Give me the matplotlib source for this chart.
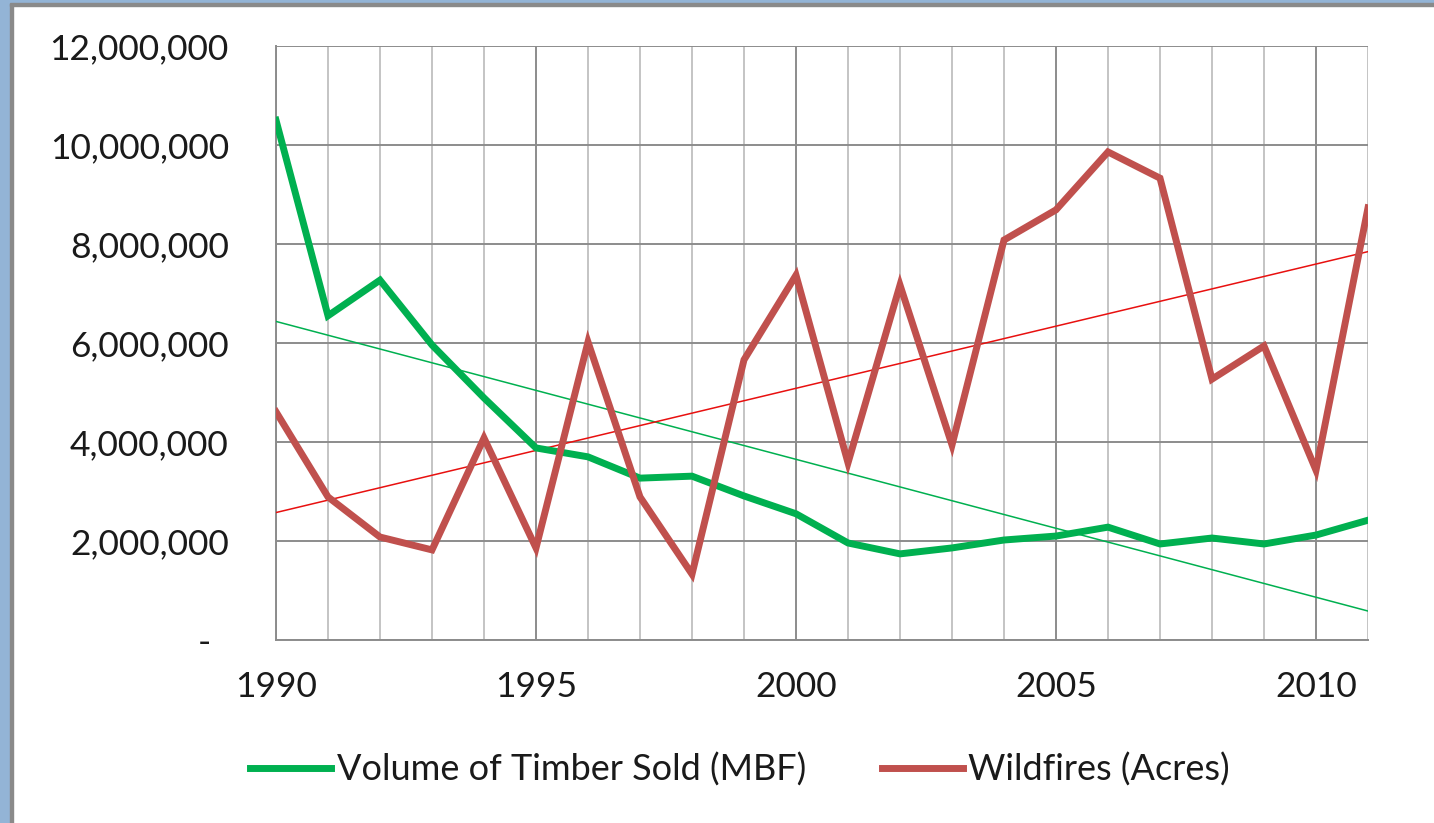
import matplotlib
matplotlib.use("Agg")
import matplotlib.pyplot as plt
import numpy as np
from matplotlib.ticker import FuncFormatter, MultipleLocator
from matplotlib.patches import Rectangle

years = list(range(1990, 2012))
timber = [10.5e6, 6.55e6, 7.27e6, 5.96e6, 4.89e6, 3.88e6, 3.70e6, 3.27e6, 3.31e6, 2.91e6, 2.55e6,
          1.96e6, 1.74e6, 1.86e6, 2.02e6, 2.10e6, 2.28e6, 1.94e6, 2.06e6, 1.94e6, 2.12e6, 2.42e6]
wildfires = [4.61e6, 2.89e6, 2.08e6, 1.82e6, 4.08e6, 1.86e6, 6.02e6, 2.89e6, 1.33e6, 5.66e6, 7.37e6,
             3.58e6, 7.17e6, 3.94e6, 8.08e6, 8.69e6, 9.86e6, 9.33e6, 5.27e6, 5.94e6, 3.43e6, 8.73e6]
labels = ["Volume of Timber Sold (MBF)", "Wildfires (Acres)"]
xtick_years = [1990, 1995, 2000, 2005, 2010]

plt.rcParams['font.family'] = ['Lato', 'DejaVu Sans']

fig = plt.figure(figsize=(14.34, 8.23), dpi=100)
fig.patch.set_facecolor('white')

# blue frame (screenshot border)
W, H = 1434, 823
blue = '#93b4d6'
fig.patches.append(Rectangle((0, 0), 10 / W, 1, transform=fig.transFigure, color=blue, zorder=0))
fig.patches.append(Rectangle((10 / W, 0), 3 / W, 1 - 3 / H, transform=fig.transFigure, color='#8a8a8a', zorder=0))
fig.patches.append(Rectangle((0, 1 - 3 / H), 1, 3 / H, transform=fig.transFigure, color=blue, zorder=0))
fig.patches.append(Rectangle((10 / W, 1 - 6 / H), 1, 3 / H, transform=fig.transFigure, color='#8a8a8a', zorder=0))

ax = fig.add_axes([276 / W, (H - 640) / H, (1368 - 276) / W, (640 - 46) / H])

x = np.array(years)
t = np.array(timber)
w = np.array(wildfires)

ax.plot(x, t, color='#00b050', lw=5, solid_joinstyle='miter', zorder=4, label=labels[0])
ax.plot(x, w, color='#c0504d', lw=5, solid_joinstyle='miter', zorder=4, label=labels[1])

pt = np.polyfit(x, t, 1)
pw = np.polyfit(x, w, 1)
ax.plot(x, np.polyval(pt, x), color='#00b050', lw=1.1, zorder=3)
ax.plot(x, np.polyval(pw, x), color='#e8100f', lw=1.1, zorder=3)

ax.set_xlim(1990, 2011)
ax.set_ylim(0, 12e6)
ax.yaxis.set_major_locator(MultipleLocator(2e6))
ax.set_xticks(xtick_years)
ax.set_xticks(years, minor=True)

def yfmt(v, pos):
    if abs(v) < 1:
        return "-  "
    return f"{v:,.0f}"
ax.yaxis.set_major_formatter(FuncFormatter(yfmt))

ax.grid(which='major', axis='both', color='#8c8c8c', lw=1.4)
ax.grid(which='minor', axis='x', color='#c4c4c4', lw=1.4)
ax.set_axisbelow(True)
for s in ['top', 'right']:
    ax.spines[s].set_visible(False)
for s in ['left', 'bottom']:
    ax.spines[s].set_color('#8c8c8c')
    ax.spines[s].set_linewidth(1.4)

ax.tick_params(axis='both', which='both', length=0, labelsize=25.5, colors='#1a1a1a')
ax.tick_params(axis='y', pad=34)
ax.tick_params(axis='x', pad=22)

fig.legend(loc='center', bbox_to_anchor=(740 / W, 1 - 770 / H), ncol=2, frameon=False,
           fontsize=26, handlelength=2.25, handletextpad=0.15, columnspacing=2.1,
           labelcolor='#1a1a1a')

fig.savefig('out.png', dpi=100, facecolor='white')
